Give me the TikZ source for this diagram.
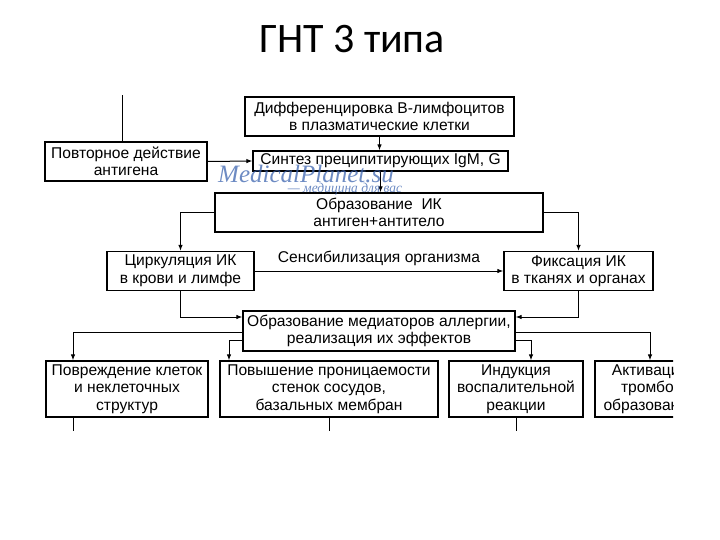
\documentclass[tikz,border=0pt]{standalone}
\usepackage{fontspec}
\setmainfont{Liberation Sans}
\newfontfamily\titlefont{Carlito}
\newfontfamily\wmfont{Liberation Serif}
\usetikzlibrary{arrows.meta}
\definecolor{wmblue}{RGB}{60,100,175}

\begin{document}
\begin{tikzpicture}[x=1pt,y=-1pt,
  box/.style={draw,line width=1.2pt,inner sep=0pt,align=center,
    font=\fontsize{15.6}{17.5}\selectfont},
  link/.style={line width=1pt},
  arr/.style={link,-{Latex[length=6pt,width=4.5pt]}},
  wm/.style={wmblue,opacity=0.75,font=\wmfont\itshape}]
  \useasboundingbox (0,0) rectangle (720,540);
  \node[anchor=base,font=\titlefont\fontsize{42}{42}\selectfont] (title) at (352,53) {ГНТ 3 типа};
  \begin{scope}
  \clip (0,96) rectangle (673,430);
  % boxes
  \node[box,minimum width=269,minimum height=39] (dif) at (379.5,116.5) {Дифференцировка В-лимфоцитов\\в плазматические клетки};
  \node[box,minimum width=162,minimum height=39] (rep) at (126,161.5) {Повторное действие\\антигена};
  \node[box,minimum width=255,minimum height=20] (syn) at (380.5,161) {Синтез преципитирующих IgM, G};
  \node[box,minimum width=328,minimum height=39] (ik) at (379,212.5) {Образование\ \ ИК\\антиген+антитело};
  \node[box,minimum width=147,minimum height=39] (circ) at (180.5,271) {Циркуляция ИК\\в крови и лимфе};
  \node[box,minimum width=149,minimum height=39] (fix) at (578.5,271) {Фиксация ИК\\в тканях и органах};
  \node[box,minimum width=272,minimum height=40] (med) at (379,331) {Образование медиаторов аллергии,\\реализация их эффектов};
  \node[box,minimum width=162,minimum height=56] (dmg) at (127,389) {Повреждение клеток\\и неклеточных\\структур};
  \node[box,minimum width=218,minimum height=56] (perm) at (329,389) {Повышение проницаемости\\стенок сосудов,\\базальных мембран};
  \node[box,minimum width=134,minimum height=56] (ind) at (516,389) {Индукция\\воспалительной\\реакции};
  \node[box,minimum width=110,minimum height=56] (act) at (650,389) {Активация\\тромбо-\\образования};
  % connectors
  \coordinate (in) at (122.5,90);
  \draw[link] (in) -- (in |- rep.north);
  \draw[arr] (rep.east) -- (syn.west);
  \draw[arr] (dif.south) -- (dif.south |- syn.north);
  \draw[arr] (syn.south) -- (syn.south |- ik.north);
  \draw[arr] (ik.west) -| (circ.north);
  \draw[arr] (ik.east) -| (fix.north);
  \draw[arr] (circ.east) -- node[above=1pt,font=\fontsize{15.6}{17.5}\selectfont]{Сенсибилизация организма} (fix.west);
  \draw[arr] (circ.south) |- ([yshift=14pt]med.west);
  \draw[arr] (fix.south) |- ([yshift=14pt]med.east);
  \draw[arr] ([yshift=-1pt]med.west) -| ([xshift=-54pt]dmg.north);
  \draw[arr] ([yshift=-9pt]med.west) -| ([xshift=-100pt]perm.north);
  \draw[arr] ([yshift=-9pt]med.east) -| ([xshift=15pt]ind.north);
  \draw[arr] ([yshift=-1pt]med.east) -| (act.north);
  \draw[link] ([xshift=-54pt]dmg.south) -- ++(0,14);
  \draw[link] (perm.south) -- ++(0,14);
  \draw[link] (ind.south) -- ++(0,14);
  \end{scope}
  % watermark
  \node[wm,font=\wmfont\itshape\fontsize{25}{25}\selectfont] (site) at (306,174) {MedicalPlanet.su};
  \node[wm,font=\wmfont\itshape\fontsize{13.5}{13.5}\selectfont] (motto) at (345,189) {— медицина для вас};
\end{tikzpicture}
\end{document}
